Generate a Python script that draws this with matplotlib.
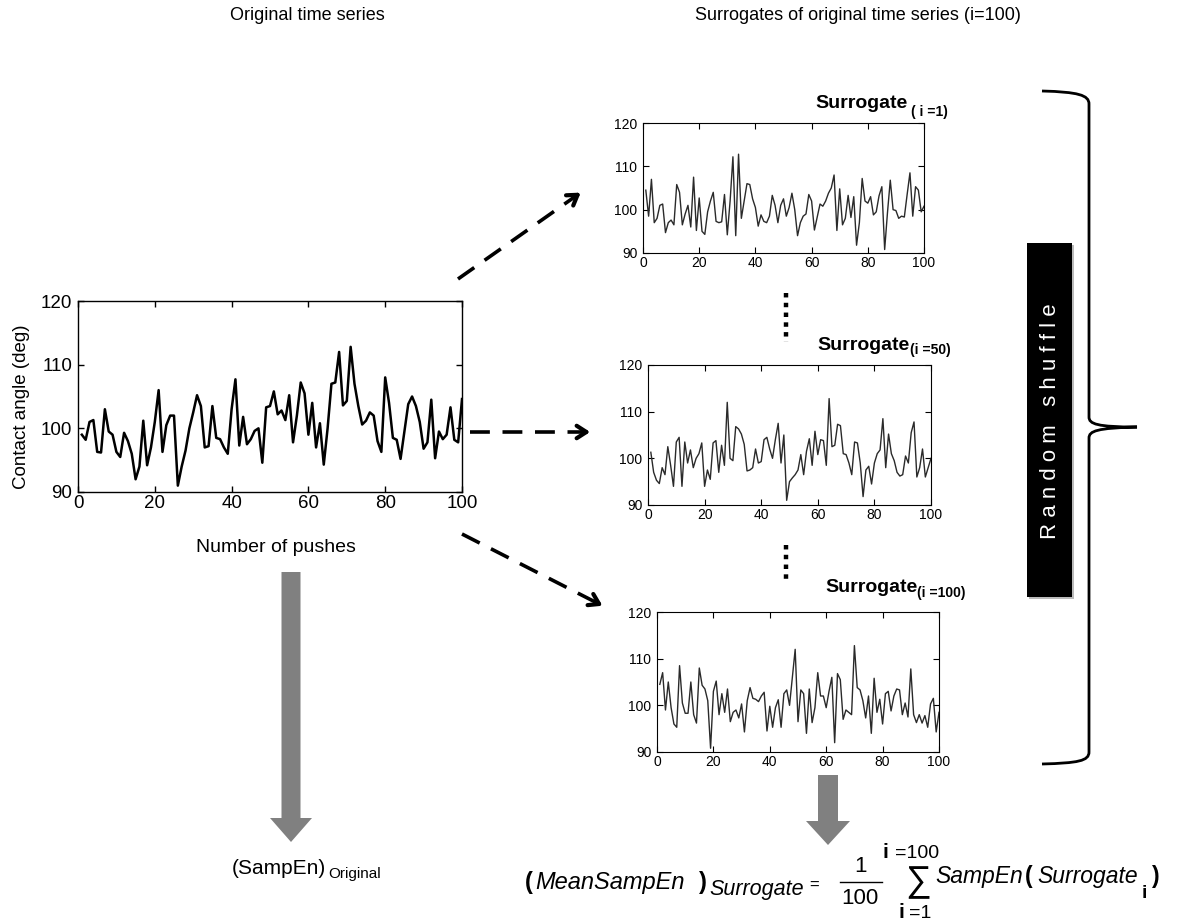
import numpy as np
import matplotlib
import matplotlib.pyplot as plt
from matplotlib.patches import FancyArrow, Rectangle, PathPatch
from matplotlib.path import Path

matplotlib.use('Agg')

plt.rcParams['font.family'] = ['Liberation Sans', 'DejaVu Sans']

W, H = 1185, 924

# time series (push number 1..100)
pushes = np.arange(1, 101)
orig = [99, 98.2, 101, 101.3, 96.3, 96.2, 103, 99.5, 99, 96.3,
        95.5, 99.3, 98, 96, 92, 94, 101.2, 94.2, 97, 101,
        106, 96.3, 100.5, 102, 102, 91, 94, 96.5, 100, 102.5,
        105.2, 103.5, 97, 97.2, 103.5, 98.5, 98.3, 97, 96, 103,
        107.7, 97.3, 101.8, 97.5, 98.3, 99.6, 100, 94.6, 103.3, 103.5,
        105.8, 102.2, 102.8, 101.3, 105.2, 97.8, 102, 107.2, 105.5, 99,
        104, 97, 100.8, 94.3, 100, 107, 107.2, 112, 103.6, 104.3,
        112.8, 107, 103.5, 100.6, 101.2, 102.5, 102, 98, 96.3, 108,
        104, 98.5, 98.2, 95.2, 99.5, 103.8, 105, 103.5, 101, 96.8,
        97.8, 104.5, 95.3, 99.5, 98.3, 99, 103.3, 98.2, 97.8, 104.6]

surr_1 = [104.5, 98.5, 107, 97, 98, 101, 101.3, 94.7, 97, 97.6,
          96.5, 105.8, 104, 96.5, 99, 101, 96, 107.5, 95.2, 102.7,
          95, 94.3, 99.5, 102, 104, 97.3, 97, 97.2, 103.5, 94.2,
          102, 112.2, 94, 112.8, 98, 102, 106, 105.8, 102.5, 100.5,
          96.2, 98.8, 97.3, 97, 98.5, 103.3, 101, 97, 101, 102.5,
          98.5, 100.5, 103.8, 100, 94, 97, 98.5, 99, 103.5, 102,
          95.3, 98.3, 101.3, 100.8, 102, 103.8, 105, 108, 95.2, 104.8,
          96.5, 98, 103.3, 98.2, 103, 91.8, 97, 107.2, 102, 101.5,
          103, 98.8, 99.5, 103.2, 105.3, 90.8, 99.3, 106.8, 100, 99.8,
          98, 98.5, 98.3, 103.5, 108.5, 98.5, 105.3, 104.5, 99.5, 100.8]

surr_50 = [101.3, 97, 95.3, 94.6, 98, 96.5, 102.5, 98.5, 94, 103.5,
           104.5, 94, 103.5, 99, 101.8, 98, 100, 101, 103.3, 94,
           97.5, 95.5, 103.3, 103.8, 97, 102.8, 98.5, 112, 100, 99.5,
           106.8, 106.3, 105.2, 103, 97.3, 97.5, 98, 102, 99, 99.3,
           104, 104.5, 102, 100, 104, 107.5, 99, 105, 91, 95,
           95.8, 96.5, 97.5, 100.8, 96.5, 101.5, 104.2, 98.5, 105.8, 100.8,
           104, 103.8, 98.5, 112.8, 102.5, 102.8, 107.3, 107, 101, 100.8,
           99, 96.5, 103.5, 103.3, 99, 91.8, 97.5, 98.3, 94.5, 99,
           101, 101.8, 108.5, 98, 105.2, 101, 99.5, 97, 96.2, 96.5,
           100.5, 99, 105.5, 107.8, 96, 98, 102, 96, 98, 100]

surr_100 = [104.5, 107, 99, 105, 99.5, 96, 95.3, 108.5, 100.5, 98.3,
            98.3, 105, 98, 96.2, 108, 104.3, 103.5, 101, 90.8, 103,
            105.2, 98, 102.5, 98.5, 103.5, 96.5, 98.5, 99, 97.3, 100.3,
            94.3, 101, 103.8, 101.5, 101.3, 100.8, 102, 102.8, 94.5, 99.8,
            95.3, 99.5, 101.2, 95.3, 102.5, 103.3, 100, 106, 112, 96.5,
            103.3, 102.5, 94, 103.5, 96.3, 99.5, 107, 102, 102, 99.5,
            103, 106, 92, 106.8, 105.5, 97, 99, 98.5, 98, 112.8,
            103.8, 103.3, 101, 97.3, 102, 94, 105.8, 98.5, 101.3, 96,
            102.5, 103, 98.8, 102, 103.5, 103.3, 98, 100.5, 97.5, 107.8,
            98, 96.3, 98, 96.2, 97.8, 95.3, 100.3, 101.5, 94.3, 98.5]

x_ticks = [0, 20, 40, 60, 80, 100]
y_ticks = [90, 100, 110, 120]
stat_label = '100.4(4.2)'


def px_box(l, t, r, b):
    return [l / W, 1 - b / H, (r - l) / W, (b - t) / H]


def style_axes(ax, fs, lw):
    ax.set_xlim(0, 100)
    ax.set_ylim(90, 120)
    ax.set_xticks(x_ticks)
    ax.set_yticks(y_ticks)
    ax.tick_params(direction='in', top=True, right=True, labelsize=fs,
                   length=4, width=lw, pad=2)
    ax.tick_params(axis='y', pad=4)
    for s in ax.spines.values():
        s.set_linewidth(lw)


fig = plt.figure(figsize=(W / 100, H / 100), dpi=100)

# overlay in pixel coordinates for arrows, brace and free text
ov = fig.add_axes([0, 0, 1, 1])
ov.set_xlim(0, W)
ov.set_ylim(H, 0)
ov.axis('off')

ov.text(307, 15, 'Original time series', fontsize=13, ha='center', va='center')
ov.text(858, 15, 'Surrogates of original time series (i=100)', fontsize=13,
        ha='center', va='center')

# original series
ax0 = fig.add_axes(px_box(78, 301, 462, 492))
ax0.plot(pushes, orig, color='black', lw=1.8)
style_axes(ax0, 13.5, 1.0)
ov.text(22, 407, 'Contact angle (deg)', fontsize=13.5, rotation=90,
        ha='center', va='center')
ov.text(276, 547, 'Number of pushes', fontsize=14, ha='center', va='center')
ov.text(225, 329, 'Mean(SD)=' + stat_label, fontsize=14, ha='left', va='center')

# surrogates
surr_sets = [
    (surr_1, (643, 123, 924, 253), (779, 149), (815, 104), '( i =1)', (911, 112)),
    (surr_50, (648, 365, 931, 505), (793, 389), (817, 345), '(i =50)', (910, 350)),
    (surr_100, (657, 612, 939, 752), (802, 638), (825, 588), '(i =100)', (917, 593)),
]
for vals, box, stat_pos, lab_pos, sub, sub_pos in surr_sets:
    ax = fig.add_axes(px_box(*box))
    ax.plot(pushes, vals, color='#2a2a2a', lw=1.0)
    style_axes(ax, 10, 0.8)
    ov.text(stat_pos[0], stat_pos[1], stat_label, fontsize=15.5,
            fontweight='bold', ha='left', va='center')
    ov.text(lab_pos[0], lab_pos[1], 'Surrogate', fontsize=14,
            fontweight='bold', ha='left', va='center')
    ov.text(sub_pos[0], sub_pos[1], sub, fontsize=10, fontweight='bold',
            ha='left', va='center')

# dotted separators
for y0, y1 in [(293, 342), (545, 581)]:
    ov.plot([786, 786], [y0, y1], color='black', lw=3.2,
            linestyle=(0, (1, 1.2)), solid_capstyle='butt')

# dashed arrows
for (x0, y0), (x1, y1) in [((458, 279), (583, 191)),
                           ((470, 432), (593, 432)),
                           ((462, 534), (605, 607))]:
    dx, dy = x1 - x0, y1 - y0
    n = np.hypot(dx, dy)
    ov.plot([x0, x1 - dx / n * 6], [y0, y1 - dy / n * 6], color='black',
            lw=2.6, linestyle=(0, (5.5, 3.5)))
    ov.annotate('', xy=(x1, y1), xytext=(x1 - dx / n * 14, y1 - dy / n * 14),
                arrowprops=dict(arrowstyle='->,head_length=0.7,head_width=0.45',
                                lw=3, color='black'))

# big gray arrows
ov.add_patch(FancyArrow(291, 572, 0, 270, width=19, head_width=42,
                        head_length=24, length_includes_head=True,
                        color='#808080', lw=0))
ov.add_patch(FancyArrow(828, 775, 0, 70, width=20, head_width=44,
                        head_length=24, length_includes_head=True,
                        color='#808080', lw=0))

# Random shuffle box with a soft shadow
ov.add_patch(Rectangle((1029, 245), 45, 354, color='#bbbbbb', lw=0))
ov.add_patch(Rectangle((1027, 243), 45, 354, color='black', lw=0))
ov.text(1050, 421, 'R a n d o m   s h u f f l e', color='white', fontsize=16,
        rotation=90, ha='center', va='center')

# brace
verts = [(1042, 91), (1078, 92), (1089, 95), (1089, 104),
         (1089, 417),
         (1089, 424), (1097, 427), (1137, 427),
         (1097, 428), (1089, 431), (1089, 438),
         (1089, 752),
         (1089, 761), (1078, 763), (1042, 764)]
codes = [Path.MOVETO, Path.CURVE4, Path.CURVE4, Path.CURVE4,
         Path.LINETO,
         Path.CURVE4, Path.CURVE4, Path.CURVE4,
         Path.CURVE4, Path.CURVE4, Path.CURVE4,
         Path.LINETO,
         Path.CURVE4, Path.CURVE4, Path.CURVE4]
ov.add_patch(PathPatch(Path(verts, codes), fill=False, lw=2.0, color='black'))

# left result label
ov.text(232, 868, '(SampEn)', fontsize=15, ha='left', va='center')
ov.text(328, 874, 'Original', fontsize=11, ha='left', va='center')

# formula
ov.text(525, 883, '(', fontsize=17, fontweight='bold', ha='left', va='center')
ov.text(535, 883, 'MeanSampEn', fontsize=17, style='italic', ha='left', va='center')
ov.text(699, 883, ')', fontsize=17, fontweight='bold', ha='left', va='center')
ov.text(709, 890, 'Surrogate', fontsize=15.5, style='italic', ha='left', va='center')
ov.text(809, 885, '=', fontsize=12, ha='left', va='center')
ov.text(861, 866, '1', fontsize=16, ha='center', va='center')
ov.plot([840, 882], [882, 882], color='black', lw=1.0)
ov.text(860, 898, '100', fontsize=16, ha='center', va='center')
ov.text(882, 852, 'i', fontsize=15, fontweight='bold', ha='left', va='center')
ov.text(895, 853, '=100', fontsize=14, ha='left', va='center')
ov.text(918, 882, '\u2211', fontsize=26, ha='center', va='center')
ov.text(898, 912, 'i', fontsize=15, fontweight='bold', ha='left', va='center')
ov.text(909, 913, '=1', fontsize=14, ha='left', va='center')
ov.text(935, 877, 'SampEn', fontsize=16.5, style='italic', ha='left', va='center')
ov.text(1025, 877, '(', fontsize=16.5, fontweight='bold', ha='left', va='center')
ov.text(1037, 877, 'Surrogate', fontsize=16.5, style='italic', ha='left', va='center')
ov.text(1142, 893, 'i', fontsize=14, fontweight='bold', ha='left', va='center')
ov.text(1152, 877, ')', fontsize=16.5, fontweight='bold', ha='left', va='center')

fig.savefig('out.png', dpi=100)
